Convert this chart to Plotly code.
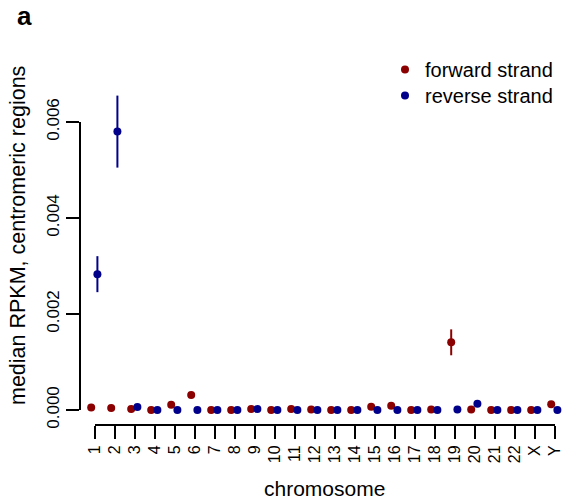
import plotly.graph_objects as go
import numpy as np

# ---------------- data ----------------
chromosomes = [str(i) for i in range(1, 23)] + ["X", "Y"]
forward = [0.00005, 0.00004, 0.00002, 0.0, 0.00011, 0.00031, 0.0, 0.0,
           0.00002, 0.0, 0.00002, 0.00001, 0.0, 0.0, 0.00007, 0.00009,
           0.0, 0.00001, 0.00141, 0.00001, 0.0, 0.0, 0.0, 0.00012]
forward_err = [0.0] * 18 + [0.00027] + [0.0] * 5
reverse = [0.00283, 0.0058, 0.00006, 0.0, 0.0, 0.0, 0.0, 0.0,
           0.00002, 0.0, 0.0, 0.0, 0.0, 0.0, 0.0, 0.0,
           0.0, 0.0, 0.00001, 0.00013, 0.0, 0.0, 0.0, 0.0]
reverse_err = [0.000375, 0.00075] + [0.0] * 22
y_ticks = [0.0, 0.002, 0.004, 0.006]

# ---------------- layout constants ----------------
W, H = 563, 499
ML, MR, MT, MB = 80, 0, 50, 74
PW, PH = W - ML - MR, H - MT - MB
FONT = "Liberation Sans, Arial, Helvetica, sans-serif"
RED = "#8b0000"
BLUE = "#00008b"
OFF_F, OFF_R = -0.19, 0.12

pos = np.arange(1, len(chromosomes) + 1)


def px_x(p):
    return (p - ML) / PW


def px_y(p):
    return (H - MB - p) / PH


fig = go.Figure()
fig.add_trace(go.Scatter(
    x=pos + OFF_F, y=forward, mode="markers", name="forward strand",
    marker=dict(color=RED, size=8), legend="legend",
    error_y=dict(type="data", array=forward_err, visible=True,
                 color=RED, thickness=2, width=0),
))
fig.add_trace(go.Scatter(
    x=pos + OFF_R, y=reverse, mode="markers", name="reverse strand",
    marker=dict(color=BLUE, size=8), legend="legend2",
    error_y=dict(type="data", array=reverse_err, visible=True,
                 color=BLUE, thickness=2, width=0),
))

# R-style detached axis lines spanning first..last tick
fig.add_shape(type="line", xref="x", yref="paper",
              x0=pos[0], x1=pos[-1], y0=0, y1=0,
              line=dict(color="black", width=2))
fig.add_shape(type="line", xref="paper", yref="y",
              x0=0, x1=0, y0=y_ticks[0], y1=y_ticks[-1],
              line=dict(color="black", width=2))

fig.update_xaxes(
    range=[0.25, 0.25 + PW / 20.0],
    tickmode="array", tickvals=pos, ticktext=chromosomes,
    tickangle=-90, ticks="outside", ticklen=13, tickwidth=2,
    tickcolor="black", showline=False, showgrid=False, zeroline=False,
    ticklabeloverflow="allow",
    tickfont=dict(family=FONT, size=16, color="black"),
)
fig.update_yaxes(
    range=[-15 / 48000.0, (H - MB - MT - 15) / 48000.0],
    tickmode="array", tickvals=y_ticks,
    ticktext=["%.3f" % v for v in y_ticks],
    tickangle=-90, ticks="outside", ticklen=13, tickwidth=2,
    tickcolor="black", showline=False, showgrid=False, zeroline=False,
    ticklabeloverflow="allow",
    tickfont=dict(family=FONT, size=17, color="black"),
)

fig.add_annotation(text="a", xref="paper", yref="paper",
                   x=px_x(24), y=px_y(16), xanchor="center", yanchor="middle",
                   showarrow=False,
                   font=dict(family=FONT, size=26, color="black", weight="bold"))
fig.add_annotation(text="median RPKM, centromeric regions", xref="paper",
                   yref="paper", x=px_x(18), y=px_y(236), textangle=-90,
                   xanchor="center", yanchor="middle", showarrow=False,
                   font=dict(family=FONT, size=21.5, color="black"))
fig.add_annotation(text="chromosome", xref="paper", yref="paper",
                   x=px_x(324), y=px_y(488), xanchor="center",
                   yanchor="middle", showarrow=False,
                   font=dict(family=FONT, size=21, color="black"))

legend_common = dict(xanchor="left", yanchor="top", bgcolor="rgba(0,0,0,0)",
                     font=dict(family=FONT, size=20, color="black"),
                     itemclick=False, itemdoubleclick=False)
fig.update_layout(
    width=W, height=H,
    margin=dict(l=ML, r=MR, t=MT, b=MB, autoexpand=False),
    paper_bgcolor="white", plot_bgcolor="white",
    showlegend=True,
    legend=dict(x=px_x(385), y=px_y(50), **legend_common),
    legend2=dict(x=px_x(385), y=px_y(76), **legend_common),
)

fig.write_html("out.html")
